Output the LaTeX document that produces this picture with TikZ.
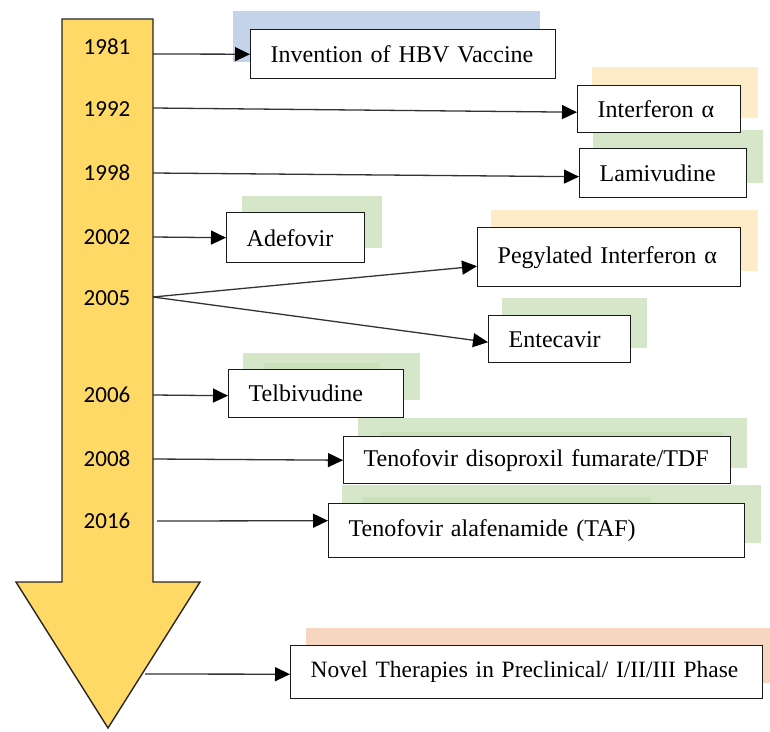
\documentclass[tikz,border=0pt]{standalone}
\usepackage{fontspec}
\setmainfont{Liberation Serif}
\newfontfamily\yearfont{Carlito}
\usetikzlibrary{arrows.meta,calc}
\definecolor{arrowgold}{RGB}{255,217,102}
\definecolor{shblue}{RGB}{197,211,234}
\definecolor{shyellow}{RGB}{254,236,200}
\definecolor{shgreen}{RGB}{213,231,200}
\definecolor{shgreendk}{RGB}{202,225,187}
\definecolor{shorange}{RGB}{246,214,193}
\begin{document}
\begin{tikzpicture}[x=1pt,y=-1pt,
  drugbox/.style={draw=black!90, line width=1.4pt, fill=white, inner xsep=20pt, inner ysep=0pt,
    align=left, anchor=north west, font=\fontsize{24}{28}\selectfont},
  year/.style={font=\yearfont\fontsize{23}{26}\selectfont, text=black},
  link/.style={draw=black!80, line width=1.3pt, -{Triangle[length=15pt,width=14pt,color=black]}}]
\useasboundingbox (0,0) rectangle (770,731);

% timeline arrow
\draw[fill=arrowgold, draw=black!85, line width=1.4pt]
  (62,19) -- (153,19) -- (153,582) -- (200,582) -- (108,728) -- (16,582) -- (62,582) -- cycle;

% years
\node[year] (y81) at (107,47)  {1981};
\node[year] (y92) at (107,109) {1992};
\node[year] (y98) at (107,173) {1998};
\node[year] (y02) at (107,237) {2002};
\node[year] (y05) at (107,298) {2005};
\node[year] (y06) at (107,395) {2006};
\node[year] (y08) at (107,459) {2008};
\node[year] (y16) at (107,521) {2016};

% coloured backdrops behind the boxes
\fill[shblue]   (233,11)  rectangle (540,62);
\fill[shyellow] (592,67)  rectangle (758,118);
\fill[shgreen]  (593,130) rectangle (763,183);
\fill[shgreen]  (242,196) rectangle (382,248);
\fill[shyellow] (491,210) rectangle (758,271);
\fill[shgreen]  (502,298) rectangle (647,348);
\fill[shgreen]  (243,353) rectangle (420,400);
\fill[shgreendk](264,363) rectangle (380,369);
\fill[shgreen]  (358,418) rectangle (747,468);
\fill[shgreendk](380,432) rectangle (723,436);
\fill[shgreen]  (342,485) rectangle (761,543);
\fill[shgreendk](363,497) rectangle (651,503);
\fill[shorange] (306,628) rectangle (770,683);

% milestone boxes
\node[drugbox, minimum width=305pt, minimum height=49pt, text width=265pt] (inv) at (250,29)  {Invention of HBV Vaccine};
\node[drugbox, minimum width=163pt, minimum height=47pt, text width=123pt] (ifn) at (577,85)  {Interferon α};
\node[drugbox, minimum width=167pt, minimum height=49pt, text width=127pt] (lam) at (579,148) {Lamivudine};
\node[drugbox, minimum width=138pt, minimum height=50pt, text width=98pt]  (ade) at (226,212) {Adefovir};
\node[drugbox, minimum width=263pt, minimum height=59pt, text width=223pt] (peg) at (477,227) {Pegylated Interferon α};
\node[drugbox, minimum width=142pt, minimum height=47pt, text width=102pt] (ent) at (488,315) {Entecavir};
\node[drugbox, minimum width=175pt, minimum height=48pt, text width=135pt] (tel) at (228,369) {Telbivudine};
\node[drugbox, minimum width=387pt, minimum height=47pt, text width=347pt] (tdf) at (343,436) {Tenofovir disoproxil fumarate/TDF};
\node[drugbox, minimum width=416pt, minimum height=54pt, text width=376pt] (taf) at (328,503) {Tenofovir alafenamide (TAF)};
\node[drugbox, minimum width=472pt, minimum height=53pt, text width=432pt, font=\fontsize{23.4}{27}\selectfont] (nov) at (290,645)
  {\mbox{Novel Therapies in Preclinical/ I/II/III Phase}};

% connector start points on the timeline
\coordinate (s81) at (153,54);
\coordinate (s92) at (153,108);
\coordinate (s98) at (153,173);
\coordinate (s02) at (153,237);
\coordinate (s05) at (153,297);
\coordinate (s06) at (153,395);
\coordinate (s08) at (153,459);
\coordinate (s16) at (157,521);
\coordinate (snv) at (145,674);

% connectors
\draw[link] (s81) -- (inv.west);
\draw[link] (s92) -- ($(ifn.west)+(0,3)$);
\draw[link] (s98) -- ($(lam.west)+(0,3.5)$);
\draw[link] (s02) -- (ade.west);
\draw[link] (s05) -- ($(peg.west)+(0,9)$);
\draw[link] (s05) -- ($(ent.west)+(0,3)$);
\draw[link] (s06) -- ($(tel.west)+(0,2)$);
\draw[link] (s08) -- (tdf.west);
\draw[link] (s16) -- ($(taf.west)+(0,-10)$);
\draw[link] (snv) -- ($(nov.west)+(0,2)$);
\end{tikzpicture}
\end{document}
